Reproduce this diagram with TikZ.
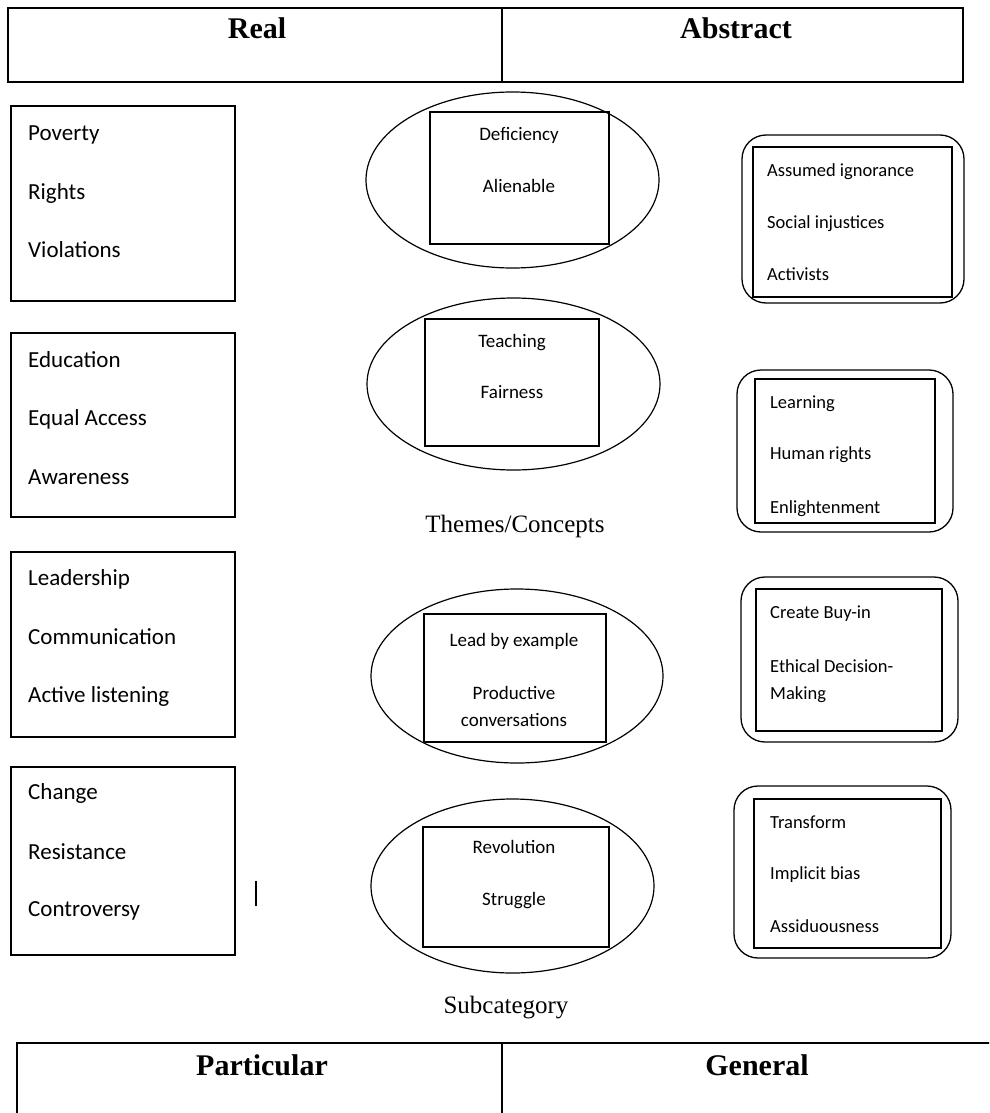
\documentclass[tikz,border=0pt]{standalone}
\usepackage{fontspec}
\setmainfont{Liberation Serif}
\newfontfamily\calibri{Carlito}
\usetikzlibrary{positioning,shapes.geometric}

\begin{document}
\begin{tikzpicture}[x=1pt,y=-1pt,
  head/.style={font=\bfseries\fontsize{30}{32}\selectfont,anchor=base,inner sep=0pt},
  caption/.style={font=\fontsize{25}{27}\selectfont,anchor=base,inner sep=0pt},
  cell/.style={rectangle,draw,line width=1.6pt,inner sep=0pt},
  realbox/.style={rectangle,draw,line width=1.5pt,inner sep=0pt},
  oval/.style={ellipse,draw,line width=1.2pt,inner sep=0pt},
  outerbox/.style={rectangle,draw,rounded corners=24pt,line width=1.3pt,inner sep=0pt},
  item/.style={font=\calibri\fontsize{23}{25}\selectfont,anchor=base west,inner sep=0pt},
  midtext/.style={font=\calibri\fontsize{19}{21}\selectfont,anchor=base,inner sep=0pt},
  abstext/.style={font=\calibri\fontsize{18.5}{20}\selectfont,anchor=base west,inner sep=0pt}]

\useasboundingbox (0,0) rectangle (989,1113);
\clip (0,0) rectangle (989,1113);

% header table
\node[cell,minimum width=494pt,minimum height=74pt] (realcell) at (255,45) {};
\node[cell,minimum width=461pt,minimum height=74pt] (abstractcell) at (732.5,45) {};
\node[head] (real) at (257,39) {Real};
\node[head] (abstract) at (736,39) {Abstract};

% real column
\node[realbox,minimum width=224pt,minimum height=195pt] (box1) at (123,203.5) {};
\node[item] (poverty) at (28,140) {Poverty};
\node[item] (rights) at (28,199) {Rights};
\node[item] (violations) at (28,257) {Violations};

\node[realbox,minimum width=224pt,minimum height=184pt] (box2) at (123,425) {};
\node[item] (education) at (28,367) {Education};
\node[item] (access) at (28,425) {Equal Access};
\node[item] (awareness) at (28,484) {Awareness};

\node[realbox,minimum width=224pt,minimum height=185pt] (box3) at (123,644.5) {};
\node[item] (leadership) at (28,585) {Leadership};
\node[item] (communication) at (28,644) {Communication};
\node[item] (listening) at (28,702) {Active listening};

\node[realbox,minimum width=224pt,minimum height=188pt] (box4) at (123,861) {};
\node[item] (change) at (28,799) {Change};
\node[item] (resistance) at (28,859) {Resistance};
\node[item] (controversy) at (28,916) {Controversy};

\draw[line width=1.5pt] (256,881) -- (256,906);

% themes
\node[oval,minimum width=293pt,minimum height=176pt] (oval1) at (512.5,180) {};
\node[realbox,minimum width=179pt,minimum height=132pt] (inner1) at (519.5,178) {};
\node[midtext] (deficiency) at (519,140) {Deficiency};
\node[midtext] (alienable) at (519,192) {Alienable};

\node[oval,minimum width=293pt,minimum height=172pt] (oval2) at (513.5,384) {};
\node[realbox,minimum width=174pt,minimum height=127pt] (inner2) at (512,382.5) {};
\node[midtext] (teaching) at (512,347) {Teaching};
\node[midtext] (fairness) at (512,398) {Fairness};

\node[caption] (themes) at (515,532) {Themes/Concepts};

\node[oval,minimum width=292pt,minimum height=174pt] (oval3) at (517,676) {};
\node[realbox,minimum width=182pt,minimum height=128pt] (inner3) at (515,678) {};
\node[midtext] (lead) at (514,646) {Lead by example};
\node[midtext] (productive) at (514,699) {Productive};
\node[midtext] (conversations) at (514,726) {conversations};

\node[oval,minimum width=283pt,minimum height=174pt] (oval4) at (512.5,886) {};
\node[realbox,minimum width=186pt,minimum height=120pt] (inner4) at (516,887) {};
\node[midtext] (revolution) at (514,853) {Revolution};
\node[midtext] (struggle) at (514,905) {Struggle};

\node[caption] (subcategory) at (506,1013) {Subcategory};

% abstract column
\node[outerbox,minimum width=222pt,minimum height=168pt] (round1) at (853,219) {};
\node[realbox,minimum width=199pt,minimum height=150pt] (abs1) at (852.5,222) {};
\node[abstext] (ignorance) at (767,176) {Assumed ignorance};
\node[abstext] (injustices) at (767,228) {Social injustices};
\node[abstext] (activists) at (767,280) {Activists};

\node[outerbox,minimum width=216pt,minimum height=162pt] (round2) at (845,451) {};
\node[realbox,minimum width=180pt,minimum height=144pt] (abs2) at (845,451) {};
\node[abstext] (learning) at (770,408) {Learning};
\node[abstext] (humanrights) at (770,459) {Human rights};
\node[abstext] (enlightenment) at (770,513) {Enlightenment};

\node[outerbox,minimum width=217pt,minimum height=165pt] (round3) at (849.5,659.5) {};
\node[realbox,minimum width=186pt,minimum height=142pt] (abs3) at (849,660) {};
\node[abstext] (buyin) at (770,618) {Create Buy-in};
\node[abstext] (ethical) at (770,672) {Ethical Decision-};
\node[abstext] (making) at (770,699) {Making};

\node[outerbox,minimum width=217pt,minimum height=172pt] (round4) at (842.5,872) {};
\node[realbox,minimum width=187pt,minimum height=149pt] (abs4) at (847.5,873.5) {};
\node[abstext] (transform) at (770,828) {Transform};
\node[abstext] (bias) at (770,879) {Implicit bias};
\node[abstext] (assiduousness) at (770,932) {Assiduousness};

% footer table
\node[cell,minimum width=485pt,minimum height=90pt] (particularcell) at (259.5,1088) {};
\node[cell,minimum width=510pt,minimum height=90pt] (generalcell) at (757,1088) {};
\node[head] (particular) at (262,1075) {Particular};
\node[head] (general) at (757,1075) {General};
\end{tikzpicture}
\end{document}
